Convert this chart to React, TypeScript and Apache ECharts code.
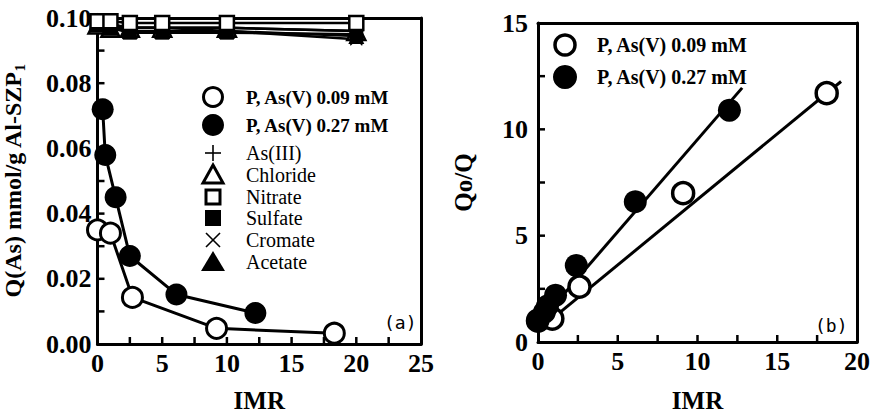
import React, { useEffect, useRef } from "react";
import * as echarts from "echarts";

// ---- Data ----
// Panel (a): Q(As) vs IMR
const imrLow = [0, 1.0, 2.7, 9.2, 18.3];
const qLow = [0.035, 0.034, 0.0143, 0.0048, 0.0033];
const imrHigh = [0.4, 0.6, 1.4, 2.5, 6.1, 12.2];
const qHigh = [0.072, 0.058, 0.045, 0.027, 0.0152, 0.0095];

const imrIons = [0, 1, 2.5, 5, 10, 20];
const qAsIII = [0.098, 0.098, 0.097, 0.097, 0.097, 0.096];
const qChloride = [0.098, 0.097, 0.097, 0.097, 0.097, 0.096];
const qNitrate = [0.099, 0.099, 0.0985, 0.0985, 0.0985, 0.0985];
const qSulfate = [0.098, 0.097, 0.0955, 0.0955, 0.0955, 0.095];
const qCromate = [0.098, 0.098, 0.097, 0.097, 0.096, 0.0935];
const qAcetate = [0.098, 0.097, 0.096, 0.096, 0.096, 0.0945];

// Panel (b): Qo/Q vs IMR
const imrLowB = [0, 0.9, 2.6, 9.1, 18.1];
const qoqLow = [1.0, 1.1, 2.6, 7.0, 11.7];
const imrHighB = [0, 0.4, 0.6, 1.1, 2.4, 6.1, 12.0];
const qoqHigh = [1.0, 1.4, 1.7, 2.2, 3.6, 6.6, 10.9];
const fitLowX = [0.5, 19.0];
const fitLowY = [0.85, 12.25];
const fitHighX = [0, 12.8];
const fitHighY = [0.85, 11.95];

// Tick positions (major and minor)
const leftXTickVals = [2.5, 5, 7.5, 10, 12.5, 15, 17.5, 20, 22.5];
const leftYTickVals = [0.01, 0.02, 0.03, 0.04, 0.05, 0.06, 0.07, 0.08, 0.09];
const rightXTickVals = [2.5, 5, 7.5, 10, 12.5, 15, 17.5];
const rightYTickVals = [2.5, 5, 7.5, 10, 12.5];

const legendA = [
  "P, As(V) 0.09 mM",
  "P, As(V) 0.27 mM",
  "As(III)",
  "Chloride",
  "Nitrate",
  "Sulfate",
  "Cromate",
  "Acetate",
];

const PLUS = "path://M9,0 H11 V9 H20 V11 H11 V20 H9 V11 H0 V9 H9 Z";
const CROSS =
  "path://M0,1.4 L1.4,0 L10,8.6 L18.6,0 L20,1.4 L11.4,10 L20,18.6 L18.6,20 L10,11.4 L1.4,20 L0,18.6 L8.6,10 Z";

const SERIF = "'Liberation Serif', 'Times New Roman', serif";

function zip(xs: number[], ys: number[]) {
  return xs.map((x, i) => [x, ys[i]]);
}

export default function App() {
  const ref = useRef<HTMLDivElement>(null);
  useEffect(() => {
    if (!ref.current) return;
    const chart = echarts.init(ref.current, undefined, { renderer: "svg" });

    const labelStyle = () => ({ color: "#000", fontFamily: SERIF, fontWeight: "bold" as const, fontSize: 26 });
    const nameStyle = () => ({ color: "#000", fontFamily: SERIF, fontWeight: "bold" as const, fontSize: 25 });
    const axLine = () => ({ show: true, onZero: false, lineStyle: { color: "#000", width: 3 } });

    const frameAxis = (gridIndex: number, position: string, min: number, max: number) => ({
      type: "value",
      gridIndex,
      position,
      min,
      max,
      axisLine: axLine(),
      axisTick: { show: false },
      axisLabel: { show: false },
      splitLine: { show: false },
    });

    const openCircle = { color: "#fff", borderColor: "#000", borderWidth: 3, opacity: 1 };
    const filled = { color: "#000", borderColor: "#000", borderWidth: 0, opacity: 1 };
    const lineS = { color: "#000", width: 3 };

    const ionSeries = (name: string, ys: number[], symbol: string, size: number, itemStyle: any) => ({
      name,
      type: "line",
      xAxisIndex: 0,
      yAxisIndex: 0,
      data: zip(imrIons, ys),
      symbol,
      symbolSize: size,
      itemStyle,
      lineStyle: { color: "#000", width: 2.5 },
      z: 3,
    });

    // Tick marks drawn as tiny rect symbols placed by the axes' own scales
    const TICK = 7;
    const tickSeries = (axisIdx: number, vals: number[], horizontal: boolean) => ({
      name: "ticks" + axisIdx + (horizontal ? "x" : "y"),
      type: "scatter",
      xAxisIndex: axisIdx,
      yAxisIndex: axisIdx,
      data: vals.map((v) => (horizontal ? [v, 0] : [0, v])),
      symbol: "rect",
      symbolSize: horizontal ? [2.5, TICK] : [TICK, 2.5],
      symbolOffset: horizontal ? [0, -TICK / 2] : [TICK / 2, 0],
      itemStyle: { color: "#000", opacity: 1 },
      clip: false,
      silent: true,
      z: 6,
    });

    // ---- Graphics: legends, panel letters ----
    const g: any[] = [];
    const legendRows = [97, 125, 153, 175, 197, 218, 240, 262];
    const lx = 213;
    const tx = 246;
    const sym = (i: number) => {
      const y = legendRows[i];
      switch (i) {
        case 0:
          return { type: "circle", shape: { cx: lx, cy: y, r: 9.5 }, style: { fill: "#fff", stroke: "#000", lineWidth: 3 } };
        case 1:
          return { type: "circle", shape: { cx: lx, cy: y, r: 11 }, style: { fill: "#000" } };
        case 2:
          return {
            type: "group",
            children: [
              { type: "line", shape: { x1: lx - 8, y1: y, x2: lx + 8, y2: y }, style: { stroke: "#000", lineWidth: 1.6 } },
              { type: "line", shape: { x1: lx, y1: y - 8, x2: lx, y2: y + 8 }, style: { stroke: "#000", lineWidth: 1.6 } },
            ],
          };
        case 3:
          return { type: "polygon", shape: { points: [[lx, y - 10], [lx + 10, y + 8], [lx - 10, y + 8]] }, style: { fill: "#fff", stroke: "#000", lineWidth: 3 } };
        case 4:
          return { type: "rect", shape: { x: lx - 7, y: y - 7, width: 14, height: 14 }, style: { fill: "#fff", stroke: "#000", lineWidth: 3 } };
        case 5:
          return { type: "rect", shape: { x: lx - 8, y: y - 8, width: 16, height: 16 }, style: { fill: "#000" } };
        case 6:
          return {
            type: "group",
            children: [
              { type: "line", shape: { x1: lx - 7, y1: y - 7, x2: lx + 7, y2: y + 7 }, style: { stroke: "#000", lineWidth: 1.6 } },
              { type: "line", shape: { x1: lx + 7, y1: y - 7, x2: lx - 7, y2: y + 7 }, style: { stroke: "#000", lineWidth: 1.6 } },
            ],
          };
        default:
          return { type: "polygon", shape: { points: [[lx, y - 11], [lx + 12, y + 9], [lx - 12, y + 9]] }, style: { fill: "#000" } };
      }
    };
    legendA.forEach((name, i) => {
      g.push(sym(i));
      g.push({
        type: "text",
        x: tx,
        y: legendRows[i],
        style: {
          text: name,
          fill: "#000",
          font: `${i < 2 ? "bold 19px" : "20px"} ${SERIF}`,
          verticalAlign: "middle",
          align: "left",
        },
      });
    });

    const lbx = 565;
    const lbt = 597;
    const lbRows = [45, 77];
    g.push(
      { type: "circle", shape: { cx: lbx, cy: lbRows[0], r: 10 }, style: { fill: "#fff", stroke: "#000", lineWidth: 3.5 } },
      { type: "circle", shape: { cx: lbx, cy: lbRows[1], r: 12 }, style: { fill: "#000" } },
      { type: "text", x: lbt, y: lbRows[0], style: { text: legendA[0], fill: "#000", font: `bold 20px ${SERIF}`, verticalAlign: "middle" } },
      { type: "text", x: lbt, y: lbRows[1], style: { text: legendA[1], fill: "#000", font: `bold 20px ${SERIF}`, verticalAlign: "middle" } },
      { type: "text", x: 384, y: 322, style: { text: "(a)", fill: "#000", font: "18px 'DejaVu Sans Mono', monospace", verticalAlign: "middle" } },
      { type: "text", x: 815, y: 325, style: { text: "(b)", fill: "#000", font: "18px 'DejaVu Sans Mono', monospace", verticalAlign: "middle" } }
    );

    chart.setOption({
      animation: false,
      backgroundColor: "#fff",
      grid: [
        { left: 95, right: 452, top: 18, bottom: 64 },
        { left: 538, right: 12, top: 23, bottom: 63 },
      ],
      xAxis: [
        {
          type: "value",
          gridIndex: 0,
          min: 0,
          max: 25,
          interval: 5,
          axisLine: axLine(),
          axisTick: { show: false },
          splitLine: { show: false },
          axisLabel: { ...labelStyle(), margin: 6 },
          name: "IMR",
          nameLocation: "middle",
          nameGap: 44,
          nameTextStyle: nameStyle(),
        },
        {
          type: "value",
          gridIndex: 1,
          min: 0,
          max: 20,
          interval: 5,
          axisLine: axLine(),
          axisTick: { show: false },
          splitLine: { show: false },
          axisLabel: { ...labelStyle(), margin: 6 },
          name: "IMR",
          nameLocation: "middle",
          nameGap: 46,
          nameTextStyle: nameStyle(),
        },
        frameAxis(0, "top", 0, 25),
        frameAxis(1, "top", 0, 20),
      ],
      yAxis: [
        {
          type: "value",
          gridIndex: 0,
          min: 0,
          max: 0.1,
          interval: 0.02,
          axisLine: axLine(),
          axisTick: { show: false },
          splitLine: { show: false },
          axisLabel: { ...labelStyle(), margin: 6, formatter: (v: number) => v.toFixed(2) },
          name: "Q(As) mmol/g Al-SZP{s|1}",
          nameLocation: "middle",
          nameGap: 70,
          nameRotate: 90,
          nameTextStyle: {
            ...nameStyle(),
            fontSize: 24,
            rich: { s: { fontFamily: SERIF, fontWeight: "bold", fontSize: 15, verticalAlign: "bottom", padding: [14, 0, 0, 0], color: "#000" } },
          },
        },
        {
          type: "value",
          gridIndex: 1,
          min: 0,
          max: 15,
          interval: 5,
          axisLine: axLine(),
          axisTick: { show: false },
          splitLine: { show: false },
          axisLabel: { ...labelStyle(), margin: 10 },
          name: "Qo/Q",
          nameLocation: "middle",
          nameGap: 62,
          nameRotate: 90,
          nameTextStyle: nameStyle(),
        },
        frameAxis(0, "right", 0, 0.1),
        frameAxis(1, "right", 0, 15),
      ],
      series: [
        ionSeries(legendA[2], qAsIII, PLUS, 14, { color: "#000" }),
        ionSeries(legendA[3], qChloride, "triangle", 18, { color: "#fff", borderColor: "#000", borderWidth: 2.5 }),
        ionSeries(legendA[5], qSulfate, "rect", 14, { color: "#000" }),
        ionSeries(legendA[7], qAcetate, "triangle", 16, { color: "#000" }),
        ionSeries(legendA[6], qCromate, CROSS, 13, { color: "#000" }),
        ionSeries(legendA[4], qNitrate, "rect", 14, { color: "#fff", borderColor: "#000", borderWidth: 2.5 }),
        {
          name: legendA[1],
          type: "line",
          xAxisIndex: 0,
          yAxisIndex: 0,
          data: zip(imrHigh, qHigh),
          symbol: "circle",
          symbolSize: 22,
          itemStyle: filled,
          lineStyle: lineS,
          z: 4,
        },
        {
          name: legendA[0],
          type: "line",
          xAxisIndex: 0,
          yAxisIndex: 0,
          data: zip(imrLow, qLow),
          symbol: "circle",
          symbolSize: 20,
          itemStyle: openCircle,
          lineStyle: lineS,
          z: 5,
        },
        {
          name: "fit 0.09",
          type: "line",
          xAxisIndex: 1,
          yAxisIndex: 1,
          data: zip(fitLowX, fitLowY),
          symbol: "none",
          lineStyle: lineS,
          z: 2,
        },
        {
          name: "fit 0.27",
          type: "line",
          xAxisIndex: 1,
          yAxisIndex: 1,
          data: zip(fitHighX, fitHighY),
          symbol: "none",
          lineStyle: lineS,
          z: 2,
        },
        {
          name: legendA[0] + " b",
          type: "scatter",
          xAxisIndex: 1,
          yAxisIndex: 1,
          data: zip(imrLowB, qoqLow),
          symbol: "circle",
          symbolSize: 21,
          itemStyle: { color: "#fff", borderColor: "#000", borderWidth: 3.5, opacity: 1 },
          z: 4,
        },
        {
          name: legendA[1] + " b",
          type: "scatter",
          xAxisIndex: 1,
          yAxisIndex: 1,
          data: zip(imrHighB, qoqHigh),
          symbol: "circle",
          symbolSize: 23,
          itemStyle: filled,
          z: 5,
        },
        tickSeries(0, leftXTickVals, true),
        tickSeries(0, leftYTickVals, false),
        tickSeries(1, rightXTickVals, true),
        tickSeries(1, rightYTickVals, false),
      ],
      graphic: g,
    });

    return () => chart.dispose();
  }, []);

  return (
    <div
      ref={ref}
      style={{ position: "fixed", left: 0, top: 0, width: 873, height: 418, background: "#fff" }}
    />
  );
}
